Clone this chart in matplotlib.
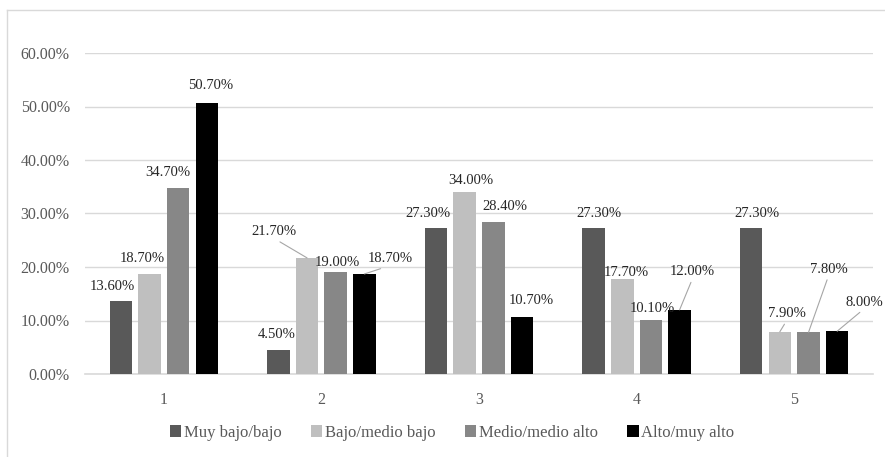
import matplotlib.pyplot as plt
import numpy as np
from matplotlib.lines import Line2D

plt.rcParams['font.family'] = ['Liberation Serif', 'DejaVu Serif']

categories = ["1", "2", "3", "4", "5"]
series_names = ["Muy bajo/bajo", "Bajo/medio bajo", "Medio/medio alto", "Alto/muy alto"]
muy_bajo = [13.6, 4.5, 27.3, 27.3, 27.3]
bajo_medio = [18.7, 21.7, 34.0, 17.7, 7.9]
medio_alto = [34.7, 19.0, 28.4, 10.1, 7.8]
alto = [50.7, 18.7, 10.7, 12.0, 8.0]
yticks = [0, 10, 20, 30, 40, 50, 60]

colors = ["#595959", "#bfbfbf", "#878787", "#000000"]

# label offsets in pixels (dx, dy) from the bar top, and whether a leader line is drawn
label_off = [
    [(-8, 15, False), (-2, 15, False), (-8, 14, False), (5, 14, False), (6, 14, False)],
    [(-7, 15, False), (-33, 26, True), (6, 12, False), (4, 7, False), (7, 18, True)],
    [(-10, 16, False), (2, 10, False), (12, 16, False), (1, 11, False), (20, 63, True)],
    [(4, 17, False), (26, 15, True), (9, 16, False), (13, 38, True), (27, 29, True)],
]

fig = plt.figure(figsize=(8.85, 4.57), dpi=100)
ax = fig.add_axes([85 / 885, 1 - 374 / 457, 788 / 885, 321 / 457])

x = np.arange(len(categories))
step = 0.182
width = 0.143
data = [muy_bajo, bajo_medio, medio_alto, alto]
for i, vals in enumerate(data):
    pos = x + (i - 1.5) * step
    ax.bar(pos, vals, width, color=colors[i], label=series_names[i], zorder=3)
    for j, v in enumerate(vals):
        dx, dy, lead = label_off[i][j]
        arrow = None
        if lead:
            arrow = dict(arrowstyle='-', color='#a6a6a6', lw=0.8,
                         shrinkA=1, shrinkB=0, relpos=(0.5, 0.0))
        ax.annotate(f"{v:.2f}%", xy=(pos[j], v), xytext=(dx, dy),
                    textcoords='offset pixels', ha='center', va='center',
                    fontsize=10.5, color='#262626', annotation_clip=False,
                    arrowprops=arrow, zorder=4)

ax.set_xlim(-0.5, len(categories) - 0.5)
ax.set_ylim(0, 60)
ax.set_yticks(yticks)
ax.set_yticklabels([f"{t:.2f}%" for t in yticks])
ax.set_xticks(x)
ax.set_xticklabels(categories)
ax.tick_params(axis='y', length=0, pad=11, labelsize=11.5, labelcolor='#595959')
ax.tick_params(axis='x', length=0, pad=13, labelsize=11.5, labelcolor='#595959')
ax.yaxis.grid(True, color='#d9d9d9', lw=1, zorder=0)
for s in ['top', 'right', 'left']:
    ax.spines[s].set_visible(False)
ax.spines['bottom'].set_color('#d9d9d9')
ax.spines['bottom'].set_linewidth(1.2)

leg = fig.legend(loc='center', bbox_to_anchor=(452 / 885, 1 - 433 / 457), ncol=4,
                 frameon=False, fontsize=12, handlelength=0.7, handleheight=0.7,
                 handletextpad=0.15, columnspacing=1.75)
for t in leg.get_texts():
    t.set_color('#595959')

# outer chart border
fig.add_artist(Line2D([7 / 885, 1], [1 - 10 / 457, 1 - 10 / 457], color='#d9d9d9', lw=1))
fig.add_artist(Line2D([7 / 885, 7 / 885], [0, 1 - 10 / 457], color='#d9d9d9', lw=1))

fig.savefig("out.png", dpi=100)
